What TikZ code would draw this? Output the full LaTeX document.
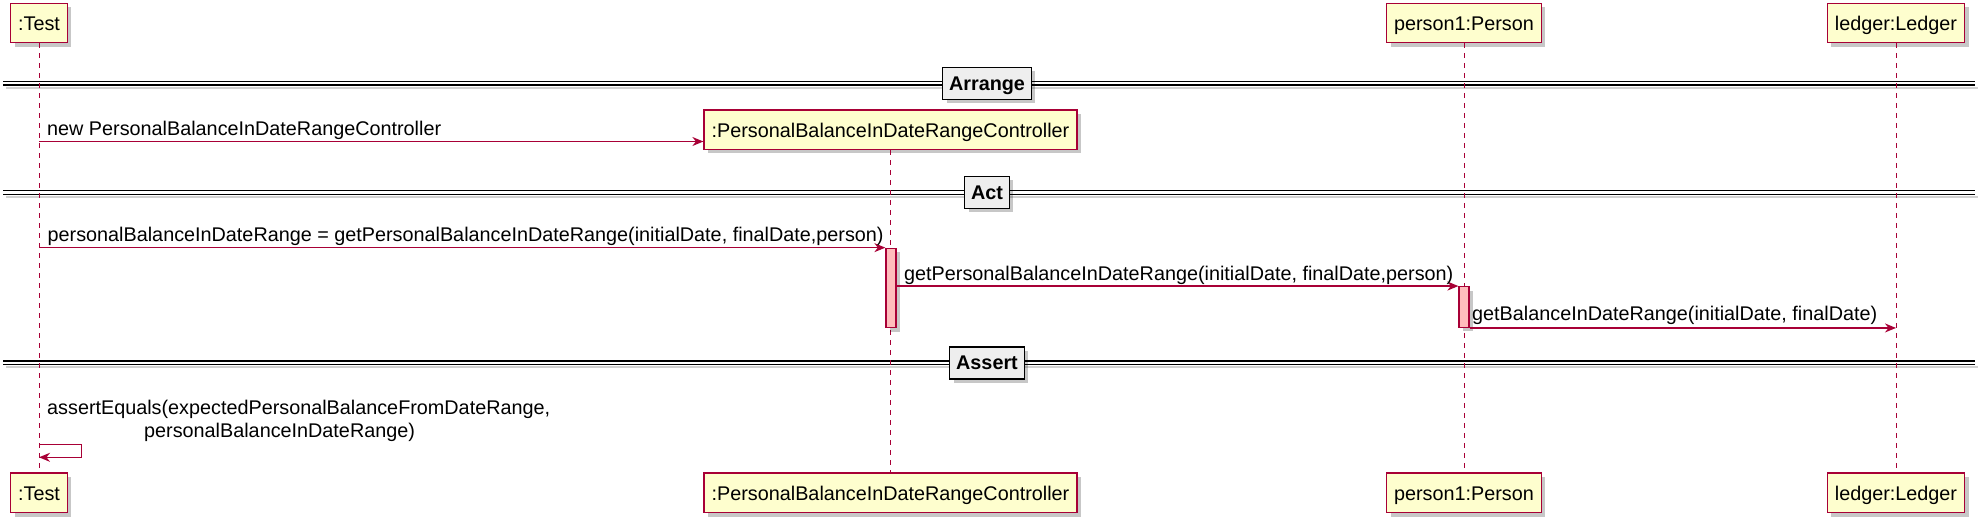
\documentclass[tikz,border=0pt]{standalone}
\usepackage{fontspec}
\setmainfont{Liberation Sans}
\usetikzlibrary{arrows.meta,shadows}
\definecolor{pred}{HTML}{A80036}
\definecolor{pyel}{HTML}{FEFECE}
\definecolor{pact}{HTML}{FFBCBC}
\definecolor{psep}{HTML}{EEEEEE}
\begin{document}
\begin{tikzpicture}[x=1pt,y=-1pt,
  every node/.style={font=\fontsize{19.8}{23}\selectfont},
  shadowed/.style={drop shadow={shadow xshift=4pt,shadow yshift=-4pt,opacity=0.22,fill=black}},
  part/.style={shadowed,draw=pred,line width=1.5pt,fill=pyel,minimum height=39.4pt,
    inner xsep=7.5pt,inner ysep=2pt,text height=17pt,text depth=1.6pt},
  lifeline/.style={draw=pred,line width=0.9pt,dash pattern=on 5pt off 5pt},
  msg/.style={draw=pred,line width=1.3pt,-{Stealth[length=11pt,width=9pt,inset=3.5pt]}},
  lbl/.style={anchor=base west,inner sep=0pt},
  actbar/.style={shadowed,draw=pred,line width=1.3pt,fill=pact,minimum width=10pt,inner sep=0pt},
  seplbl/.style={shadowed,draw=black,line width=1.5pt,fill=psep,
    font=\bfseries\fontsize{19.8}{23}\selectfont,minimum height=32pt,
    inner xsep=6.5pt,inner ysep=0pt,text height=14.2pt,text depth=0pt},
  sepline/.style={draw=black,line width=1.3pt},
  sepshadow/.style={draw=black,opacity=0.18,line width=2pt}]
\useasboundingbox (0,0) rectangle (1981,523);

% separators (double lines)
\foreach \ya/\yb in {81.5/85, 190.7/194.2, 361/364.5}{
  \draw[sepshadow] (6,\yb+2.8) -- (1978,\yb+2.8);
  \draw[sepline] (3.3,\ya) -- (1975,\ya);
  \draw[sepline] (3.3,\yb) -- (1975,\yb);
}

% participants
\node[part] (t1) at (39,23) {:Test};
\node[part] (t2) at (39,492.8) {:Test};
\node[part] (c1) at (890.5,129.7) {:PersonalBalanceInDateRangeController};
\node[part] (c2) at (890.5,492.8) {:PersonalBalanceInDateRangeController};
\node[part] (p1) at (1464,23) {person1:Person};
\node[part] (p2) at (1464,492.8) {person1:Person};
\node[part] (g1) at (1896,23) {ledger:Ledger};
\node[part] (g2) at (1896,492.8) {ledger:Ledger};

% lifelines
\draw[lifeline] (t1.south) -- (t2.north);
\draw[lifeline] (c1.south) -- (c2.north);
\draw[lifeline] (p1.south) -- (p2.north);
\draw[lifeline] (g1.south) -- (g2.north);

% separator labels
\node[seplbl] (sArr) at (987,83.25) {Arrange};
\node[seplbl] (sAct) at (987,192.45) {Act};
\node[seplbl] (sAss) at (987,362.75) {Assert};

% activation bars
\node[actbar,minimum height=79.4pt] (a1) at (891,288) {};
\node[actbar,minimum height=40.6pt] (a2) at (1464,307) {};

% messages
\coordinate (m1) at (39,141.5);
\draw[msg] (m1) -- (m1 -| c1.west);
\node[lbl] (l1) at (47,135) {new PersonalBalanceInDateRangeController};

\draw[msg] (a1.north west -| t1) -- (a1.north west);
\node[lbl] (l2) at (47.5,241.8) {personalBalanceInDateRange = getPersonalBalanceInDateRange(initialDate, finalDate,person)};

\draw[msg] (a2.north west -| a1.east) -- (a2.north west);
\node[lbl] (l3) at (904,280.8) {getPersonalBalanceInDateRange(initialDate, finalDate,person)};

\draw[msg] (a2.south east) -- (a2.south east -| g1);
\node[lbl] (l4) at (1472,320.8) {getBalanceInDateRange(initialDate, finalDate)};

% self message
\coordinate (s0) at (39,444.5);
\coordinate (s1) at (39,457.3);
\draw[msg] (s0) -- (81.7,444.5) -- (81.7,457.3) -- (s1);
\node[lbl] (l5) at (47,414) {assertEquals(expectedPersonalBalanceFromDateRange,};
\node[lbl] (l6) at (144,437) {personalBalanceInDateRange)};
\end{tikzpicture}
\end{document}
